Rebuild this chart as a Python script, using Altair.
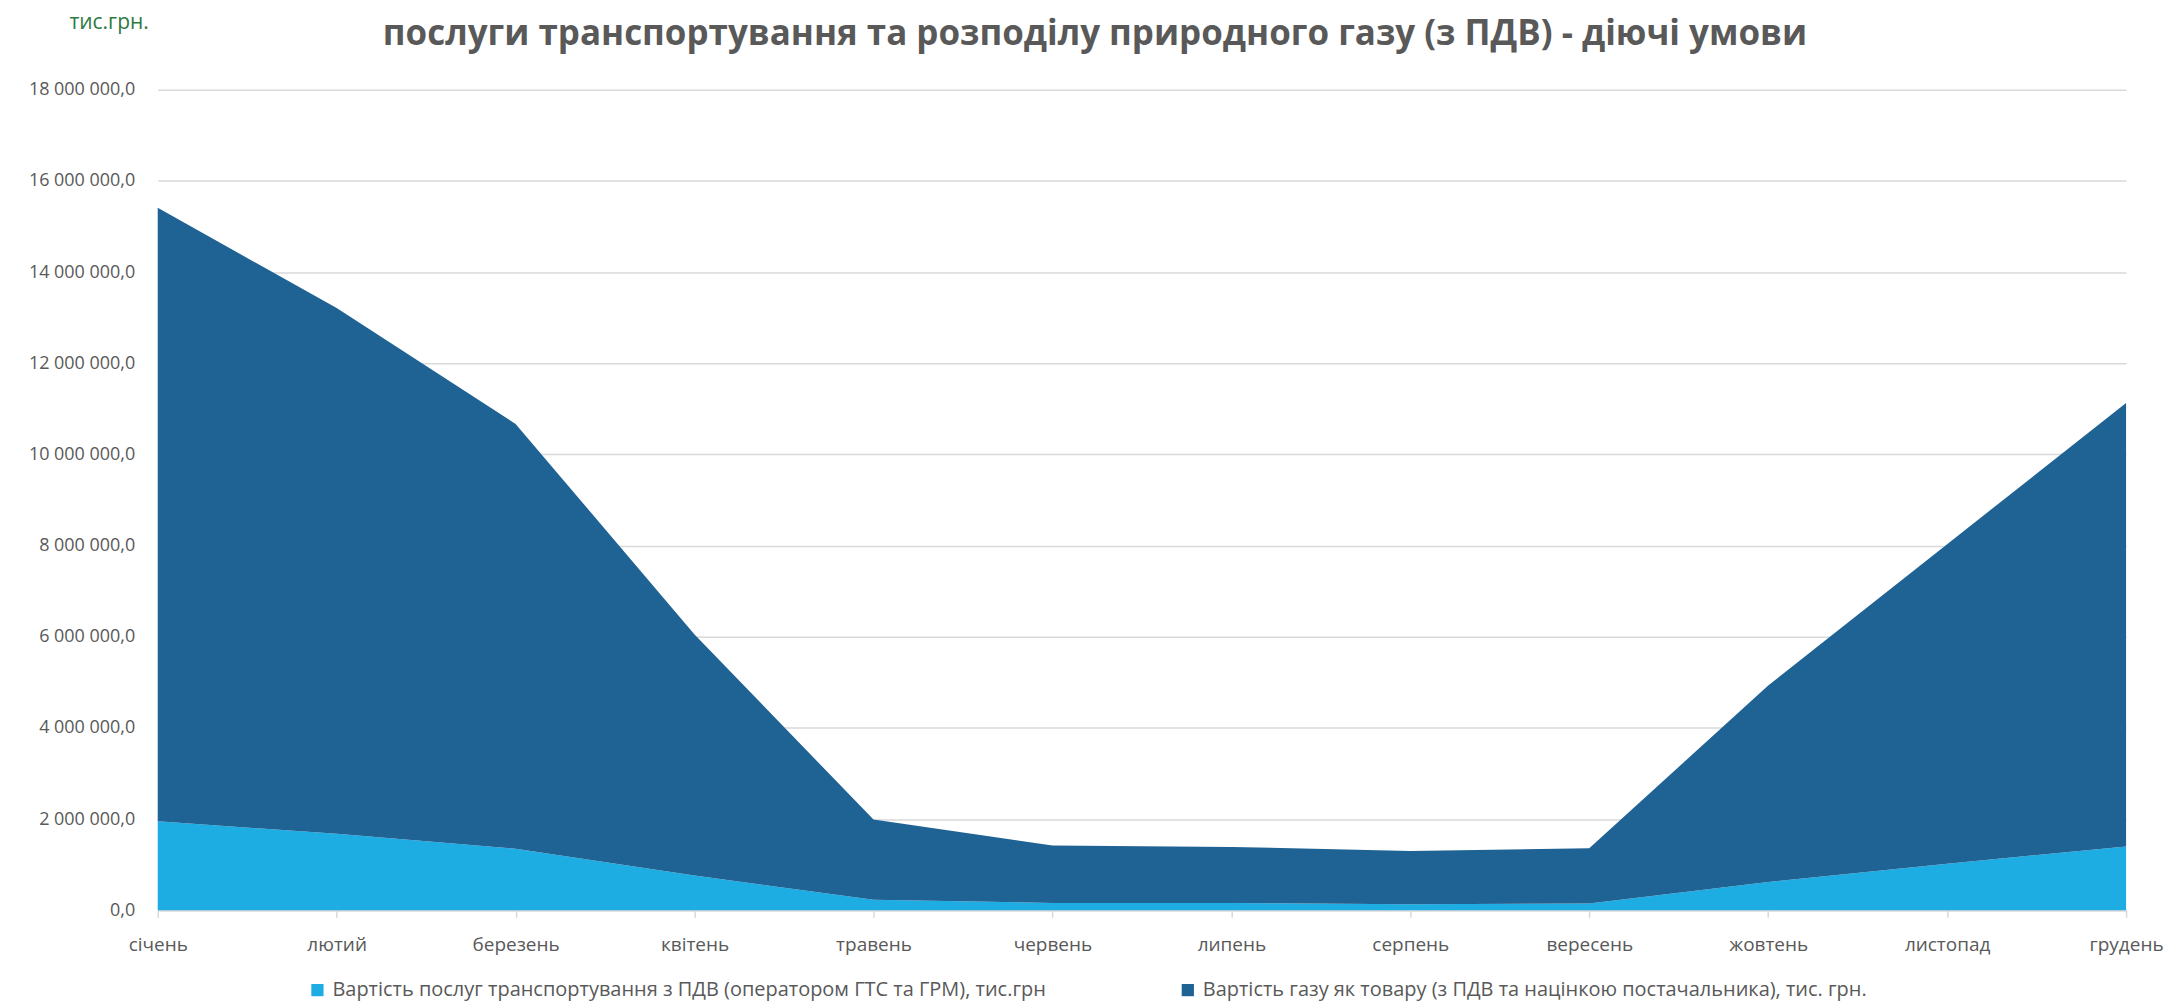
import altair as alt
import pandas as pd

months = ["січень", "лютий", "березень", "квітень", "травень", "червень",
          "липень", "серпень", "вересень", "жовтень", "листопад", "грудень"]

series_names = [
    "Вартість послуг транспортування з ПДВ (оператором ГТС та ГРМ), тис.грн",
    "Вартість газу як товару (з ПДВ та націнкою постачальника), тис. грн.",
]

transport = [1950000, 1680000, 1350000, 760000, 230000, 160000,
             160000, 130000, 150000, 620000, 1020000, 1400000]
gas = [13460000, 11530000, 9320000, 5290000, 1760000, 1260000,
       1230000, 1170000, 1210000, 4310000, 7010000, 9730000]

colors = ["#1EADE3", "#1F6294"]
y_ticks = [0, 2000000, 4000000, 6000000, 8000000, 10000000,
           12000000, 14000000, 16000000, 18000000]

rows = []
for i, m in enumerate(months):
    rows.append({"month": m, "series": series_names[0], "value": transport[i], "ord": 1})
    rows.append({"month": m, "series": series_names[1], "value": gas[i], "ord": 2})
df = pd.DataFrame(rows)

FONT = "Open Sans"
GRAY = "#595959"

chart = alt.Chart(df).mark_area(interpolate="linear").encode(
    x=alt.X("month:N", sort=months,
            scale=alt.Scale(type="point", padding=0),
            axis=alt.Axis(title=None, labelAngle=0, grid=False,
                          domainColor="#D9D9D9", domainWidth=1.5,
                          tickColor="#D9D9D9", tickSize=7, tickWidth=1.5,
                          labelFont=FONT, labelFontSize=19, labelColor=GRAY,
                          labelPadding=18)),
    y=alt.Y("value:Q", stack="zero",
            scale=alt.Scale(domain=[0, 18000000], nice=False),
            axis=alt.Axis(values=y_ticks, grid=True, gridColor="#D9D9D9",
                          gridWidth=1.5, domain=False, ticks=False,
                          labelFont=FONT, labelFontSize=18, labelColor=GRAY,
                          labelPadding=23,
                          labelExpr="replace(replace(format(datum.value, ',.1f'), regexp(',', 'g'), ' '), '.', ',')",
                          title="тис.грн.", titleAngle=0, titleAlign="left",
                          titleBaseline="middle", titleX=-89, titleY=-67,
                          titleFont=FONT, titleFontSize=21, titleFontWeight="normal",
                          titleColor="#2E7A3F")),
    color=alt.Color("series:N",
                    scale=alt.Scale(domain=series_names, range=colors),
                    legend=alt.Legend(title=None, orient="none", direction="horizontal",
                                      legendX=150, legendY=892,
                                      symbolType="square", symbolSize=150,
                                      symbolStrokeWidth=0, labelOffset=5,
                                      labelFont=FONT, labelFontSize=20,
                                      labelColor=GRAY, labelLimit=1000,
                                      columnPadding=131)),
    order=alt.Order("ord:Q", sort="ascending"),
).properties(
    width=1972,
    height=822,
    title=alt.TitleParams(
        text="послуги транспортування та розподілу природного газу (з ПДВ) - діючі умови",
        font=FONT, fontSize=35, fontWeight="bold", color=GRAY,
        anchor="middle", dx=-47, offset=-40),
    autosize=alt.AutoSizeParams(type="none"),
    padding={"left": 150, "top": 81, "right": 40, "bottom": 96},
).configure_view(stroke=None)

chart.save("out.html", embed_options={"renderer": "svg", "actions": False})
